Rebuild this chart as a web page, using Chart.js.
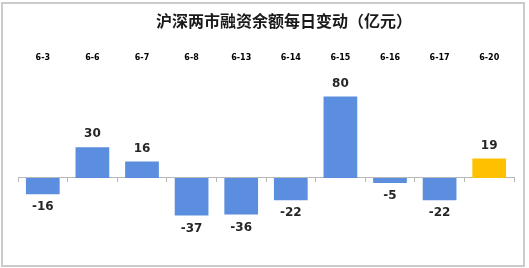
<!DOCTYPE html>
<html>
<head>
<meta charset="utf-8">
<script src="https://cdn.jsdelivr.net/npm/chart.js@4"></script>
<style>
    html, body { margin: 0; padding: 0; background: #fff; }
    #wrap { position: relative; width: 529px; height: 268px; }
    #frame {
        position: absolute; left: 1px; top: 2px; width: 520px; height: 261px;
        border: 2px solid #cbcbcb; box-sizing: content-box;
    }
    #dailyChart { position: absolute; left: 0; top: 0; }
</style>
</head>
<body>
<div id="wrap">
    <div id="frame"></div>
    <canvas id="dailyChart" width="529" height="268"></canvas>
</div>
<script>
const chartTitle = '沪深两市融资余额每日变动（亿元）';
const dates = ['6-3', '6-6', '6-7', '6-8', '6-13', '6-14', '6-15', '6-16', '6-17', '6-20'];
const changes = [-16, 30, 16, -37, -36, -22, 80, -5, -22, 19];
const barColors = ['#5b8ede', '#5b8ede', '#5b8ede', '#5b8ede', '#5b8ede',
                   '#5b8ede', '#5b8ede', '#5b8ede', '#5b8ede', '#ffc000'];

const ctx = document.getElementById('dailyChart').getContext('2d');

// title, dates on top and value labels are painted here
const labelPlugin = {
    id: 'labelPlugin',
    afterDatasetsDraw(chart) {
        const c = chart.ctx;
        const xScale = chart.scales.x;
        c.save();
        c.textBaseline = 'middle';

        c.fillStyle = '#1a1a1a';
        c.textAlign = 'left';
        c.font = 'bold 16px "Noto Sans CJK SC"';
        c.fillText(chartTitle, 156, 21);

        c.textAlign = 'center';
        c.fillStyle = '#000';
        c.font = 'bold 8px "DejaVu Sans"';
        dates.forEach((d, i) => {
            c.fillText(d, xScale.getPixelForValue(i), 58);
        });

        c.fillStyle = '#262626';
        c.font = 'bold 12px "DejaVu Sans"';
        const meta = chart.getDatasetMeta(0);
        meta.data.forEach((bar, i) => {
            const v = changes[i];
            const y = v >= 0 ? bar.y - 13 : bar.y + 13;
            c.fillText(String(v), bar.x, y);
        });
        c.restore();
    }
};

new Chart(ctx, {
    type: 'bar',
    data: {
        labels: dates,
        datasets: [{
            data: changes,
            backgroundColor: barColors,
            borderWidth: 0,
            categoryPercentage: 1,
            barPercentage: 0.68
        }]
    },
    options: {
        responsive: false,
        animation: false,
        layout: { padding: { top: 76, bottom: 29, left: 18, right: 15 } },
        plugins: {
            legend: { display: false },
            tooltip: { enabled: false },
            title: { display: false }
        },
        scales: {
            x: {
                position: { y: 0 },
                ticks: { display: false },
                grid: {
                    drawOnChartArea: false,
                    drawTicks: true,
                    tickLength: 4,
                    color: '#b8b8b8'
                },
                border: { display: true, color: '#b8b8b8', width: 1 }
            },
            y: {
                display: false,
                min: -60,
                max: 100
            }
        }
    },
    plugins: [labelPlugin]
});
</script>
</body>
</html>
